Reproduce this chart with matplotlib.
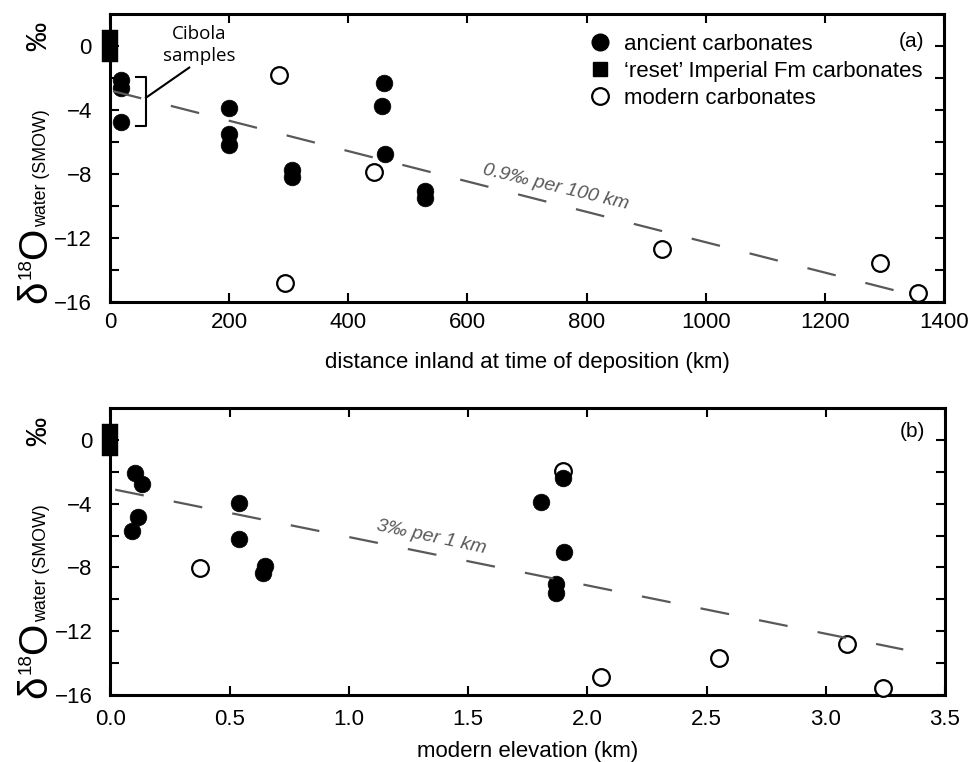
import numpy as np
import matplotlib
matplotlib.use("Agg")
import matplotlib.pyplot as plt
from matplotlib.lines import Line2D
from matplotlib.transforms import IdentityTransform

plt.rcParams['font.family'] = ['Liberation Sans', 'DejaVu Sans']
plt.rcParams['lines.scale_dashes'] = False

# ---------------- data ----------------
# panel (a): distance inland at time of deposition (km)
ancient_a_x = [18, 18, 18, 200, 200, 200, 306, 306, 456, 460, 462, 528, 528]
ancient_a_y = [-2.1, -2.65, -4.75, -3.86, -5.53, -6.16, -7.75, -8.2, -3.72, -2.3, -6.72, -9.04, -9.52]
reset_a_x = [0, 0]
reset_a_y = [0.5, -0.5]
modern_a_x = [283, 293, 443, 927, 1293, 1357]
modern_a_y = [-1.84, -14.8, -7.87, -12.7, -13.57, -15.45]
trend_a_x = [5, 1320]
trend_a_y = [-2.82, -15.3]

# panel (b): modern elevation (km)
ancient_b_x = [0.103, 0.134, 0.117, 0.092, 0.539, 0.539, 0.648, 0.641, 1.897, 1.806, 1.904, 1.869, 1.869]
ancient_b_y = [-2.09, -2.77, -4.86, -5.73, -3.96, -6.23, -7.88, -8.33, -2.4, -3.9, -7.02, -9.06, -9.58]
reset_b_x = [0, 0]
reset_b_y = [0.45, -0.55]
modern_b_x = [0.376, 1.9, 2.057, 2.552, 3.087, 3.241]
modern_b_y = [-8.02, -1.94, -14.84, -13.69, -12.81, -15.52]
trend_b_x = [0.02, 3.325]
trend_b_y = [-3.13, -13.13]

xticks_a = [0, 200, 400, 600, 800, 1000, 1200, 1400]
xticklabels_a = ['0', '200', '400', '600', '800', '1000', '1200', '1400']
xticks_b = [0.0, 0.5, 1.0, 1.5, 2.0, 2.5, 3.0, 3.5]
xticklabels_b = ['0.0', '0.5', '1.0', '1.5', '2.0', '2.5', '3.0', '3.5']
yticks = [-16, -14, -12, -10, -8, -6, -4, -2, 0]
yticklabels = ['\u221216', '', '\u221212', '', '\u22128', '', '\u22124', '', '0']

legend_labels = ['ancient carbonates', '\u2018reset\u2019 Imperial Fm carbonates', 'modern carbonates']

# ---------------- figure ----------------
W, H = 974, 762
fig = plt.figure(figsize=(W / 100, H / 100), dpi=100)

def px_axes(l, t, r, b):
    return fig.add_axes([l / W, (H - b) / H, (r - l) / W, (b - t) / H])

ax_a = px_axes(110, 14, 944, 302)
ax_b = px_axes(110.4, 407.7, 945, 695.3)

MS = 12
GREY = '#595959'
FS = 16

def style_axes(ax, xticks, xlabels, xpad):
    for s in ax.spines.values():
        s.set_linewidth(2.2)
    ax.set_xticks(xticks)
    ax.set_xticklabels(xlabels)
    ax.set_yticks(yticks)
    ax.set_yticklabels(yticklabels)
    ax.set_ylim(-16, 2)
    ax.tick_params(direction='in', length=6.5, width=1.5, top=True, right=True,
                   labelsize=FS, colors='black')
    ax.tick_params(axis='x', pad=xpad)
    ax.tick_params(axis='y', pad=13)

def draw_panel(ax, ax_x, ax_y, rx, ry, mx, my, tx, ty):
    ax.plot(mx, my, 'o', ms=MS, mfc='white', mec='black', mew=1.6, zorder=3, clip_on=False)
    ax.plot(ax_x, ax_y, 'o', ms=MS, mfc='black', mec='black', mew=0.5, zorder=4, clip_on=False)
    ax.plot(rx, ry, 's', ms=11.5, mfc='black', mec='black', mew=0.3, zorder=5, clip_on=False)
    ln, = ax.plot(tx, ty, color=GREY, lw=1.6, zorder=6)
    ln.set_dashes((21, 22))

# panel a
draw_panel(ax_a, ancient_a_x, ancient_a_y, reset_a_x, reset_a_y, modern_a_x, modern_a_y, trend_a_x, trend_a_y)
ax_a.set_xlim(0, 1400)
style_axes(ax_a, xticks_a, xticklabels_a, 7.5)
ax_a.set_xlabel('distance inland at time of deposition (km)', fontsize=FS)
ax_a.xaxis.set_label_coords(0.5, -0.174)
ax_a.text(749, -8.8, '0.9\u2030 per 100 km', fontsize=14, color=GREY, style='italic',
          rotation=-13.5, ha='center', va='center', rotation_mode='anchor')
ax_a.text(1345, 0.31, '(a)', fontsize=15, ha='center', va='center')

# Cibola annotation
ax_a.plot([43.6, 60.4, 60.4, 43.6], [-1.94, -1.94, -4.97, -4.97], color='black', lw=1.5, zorder=6)
ax_a.plot([60.4, 133], [-3.23, -1.35], color='black', lw=1.5, zorder=6)
ax_a.text(149, 0.05, 'Cibola\nsamples', fontsize=13.5, family=['Open Sans', 'DejaVu Sans'],
          ha='center', va='center', linespacing=1.3)

handles = [Line2D([], [], ls='none', marker='o', ms=MS, mfc='black', mec='black'),
           Line2D([], [], ls='none', marker='s', ms=10, mfc='black', mec='black'),
           Line2D([], [], ls='none', marker='o', ms=MS, mfc='white', mec='black', mew=1.6)]
ax_a.legend(handles, legend_labels, loc='upper left', bbox_to_anchor=(0.5745, 0.93),
            frameon=False, fontsize=FS, handlelength=1.0, handletextpad=0.55,
            labelspacing=0.27, borderpad=0, borderaxespad=0)

# panel b
draw_panel(ax_b, ancient_b_x, ancient_b_y, reset_b_x, reset_b_y, modern_b_x, modern_b_y, trend_b_x, trend_b_y)
ax_b.set_xlim(0, 3.5)
style_axes(ax_b, xticks_b, xticklabels_b, 10)
ax_b.set_xlabel('modern elevation (km)', fontsize=FS)
ax_b.xaxis.set_label_coords(0.5, -0.16)
ax_b.text(1.344, -6.1, '3\u2030 per 1 km', fontsize=14, color=GREY, style='italic',
          rotation=-12, ha='center', va='center', rotation_mode='anchor')
ax_b.text(3.364, 0.52, '(b)', fontsize=15, ha='center', va='center')

# compound y labels
def ylabel(offset):
    pieces = [(303, 46, '\u03b4', 29), (279, 31, '18', 13.5), (259, 46, 'O', 29),
              (227, 46, 'water (SMOW)', 12.8), (51, 46, '\u2030', 21)]
    for y_img, x_img, s, size in pieces:
        fig.text(x_img, H - (y_img + offset), s, fontsize=size, rotation=90,
                 rotation_mode='anchor', ha='left', va='baseline',
                 transform=IdentityTransform())

ylabel(0)
ylabel(395)

fig.savefig('out.png', dpi=100)
